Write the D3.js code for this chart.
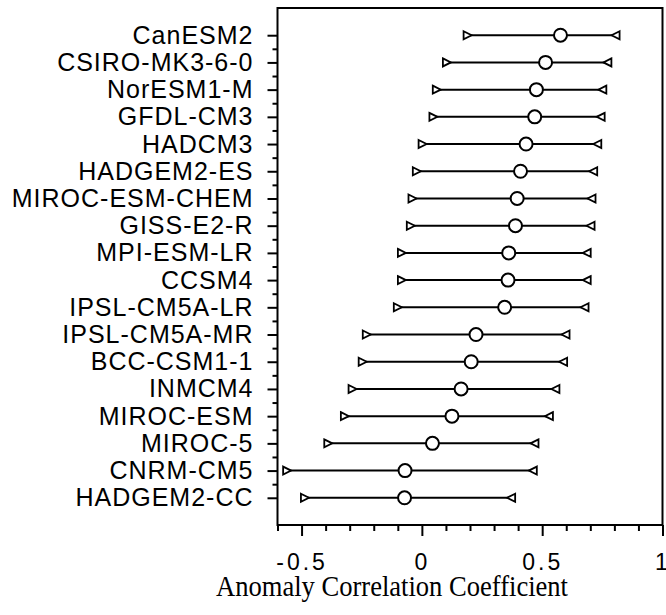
<!DOCTYPE html>
<html>
<head>
<meta charset="utf-8">
<script src="https://cdn.jsdelivr.net/npm/d3@7"></script>
<style>
  body { margin: 0; background: #fff; }
  svg { display: block; }
</style>
</head>
<body>
<div id="vis"></div>
<script>
const FRAME_WIDTH = 666;
const FRAME_HEIGHT = 615;
const PLOT = {left: 277.5, right: 662.5, top: 8, bottom: 525};

// models, top to bottom
const models = ["CanESM2", "CSIRO-MK3-6-0", "NorESM1-M", "GFDL-CM3", "HADCM3",
  "HADGEM2-ES", "MIROC-ESM-CHEM", "GISS-E2-R", "MPI-ESM-LR", "CCSM4",
  "IPSL-CM5A-LR", "IPSL-CM5A-MR", "BCC-CSM1-1", "INMCM4", "MIROC-ESM",
  "MIROC-5", "CNRM-CM5", "HADGEM2-CC"];
const acc   = [0.576, 0.514, 0.476, 0.469, 0.433, 0.41, 0.396, 0.389, 0.361, 0.358,
  0.344, 0.225, 0.205, 0.163, 0.125, 0.044, -0.07, -0.072];
const lower = [0.19, 0.104, 0.062, 0.048, 0.003, -0.021, -0.039, -0.046, -0.083, -0.083,
  -0.1, -0.229, -0.246, -0.288, -0.32, -0.389, -0.56, -0.486];
const upper = [0.805, 0.771, 0.75, 0.743, 0.729, 0.712, 0.705, 0.701, 0.685, 0.685,
  0.676, 0.597, 0.587, 0.555, 0.528, 0.468, 0.461, 0.371];

const xMajor = [-0.5, 0, 0.5, 1];
const xMinor = d3.range(-6, 11).map(d => d / 10);

const rows = models.map((m, i) => ({model: m, i: i, acc: acc[i], lo: lower[i], hi: upper[i]}));

const svg = d3.select("#vis")
  .append("svg")
    .attr("width", FRAME_WIDTH)
    .attr("height", FRAME_HEIGHT);

// scales
const X_SCALE = d3.scaleLinear()
  .domain([-0.6, 1])
  .range([PLOT.left, PLOT.right]);

// index -> y, one empty step above and below
const Y_SCALE = d3.scaleLinear()
  .domain([-1, models.length])
  .range([PLOT.top, PLOT.bottom]);

// y axis, labels on majors
const yAxis = d3.axisLeft(Y_SCALE)
  .tickValues(d3.range(models.length))
  .tickFormat(i => models[i])
  .tickSize(10)
  .tickPadding(14);

const gy = svg.append("g")
  .attr("transform", `translate(${PLOT.left},0)`)
  .call(yAxis);
gy.select(".domain").remove();
gy.selectAll("line").attr("stroke-width", 2);
gy.selectAll("text")
  .attr("font-family", "Liberation Sans, Arial, sans-serif")
  .attr("font-size", 25)
  .attr("letter-spacing", 1)
  .attr("fill", "#000");

const gyMinor = svg.append("g")
  .attr("transform", `translate(${PLOT.left},0)`)
  .call(d3.axisLeft(Y_SCALE)
    .tickValues(d3.range(models.length - 1).map(i => i + 0.5))
    .tickFormat("")
    .tickSize(5));
gyMinor.select(".domain").remove();
gyMinor.selectAll("line").attr("stroke-width", 2);

// x axis
const gx = svg.append("g")
  .attr("transform", `translate(0,${PLOT.bottom})`)
  .call(d3.axisBottom(X_SCALE)
    .tickValues(xMajor)
    .tickFormat(d => d === 0 ? "0" : String(d))
    .tickSize(11)
    .tickPadding(18));
gx.select(".domain").remove();
gx.selectAll("line").attr("stroke-width", 2);
gx.selectAll("text")
  .attr("font-family", "Liberation Sans, Arial, sans-serif")
  .attr("font-size", 23)
  .attr("letter-spacing", 3)
  .attr("fill", "#000");

const gxMinor = svg.append("g")
  .attr("transform", `translate(0,${PLOT.bottom})`)
  .call(d3.axisBottom(X_SCALE)
    .tickValues(xMinor.filter(v => !xMajor.includes(v)))
    .tickFormat("")
    .tickSize(6));
gxMinor.select(".domain").remove();
gxMinor.selectAll("line").attr("stroke-width", 2);

// frame
svg.append("rect")
  .attr("x", PLOT.left)
  .attr("y", PLOT.top)
  .attr("width", PLOT.right - PLOT.left)
  .attr("height", PLOT.bottom - PLOT.top)
  .attr("fill", "none")
  .attr("stroke", "#000")
  .attr("stroke-width", 2);

// axis title
svg.append("text")
  .attr("x", (216 + 568) / 2)
  .attr("y", 596)
  .attr("text-anchor", "middle")
  .attr("font-family", "Liberation Serif, Times New Roman, serif")
  .attr("font-size", 29)
  .attr("textLength", 352)
  .attr("lengthAdjust", "spacingAndGlyphs")
  .text("Anomaly Correlation Coefficient");

// ranges
svg.selectAll(".range")
  .data(rows)
  .enter()
  .append("line")
    .attr("class", "range")
    .attr("x1", d => X_SCALE(d.lo))
    .attr("x2", d => X_SCALE(d.hi))
    .attr("y1", d => Y_SCALE(d.i))
    .attr("y2", d => Y_SCALE(d.i))
    .attr("stroke", "#000")
    .attr("stroke-width", 2);

const T = 4; // half size of triangle

// lower end, pointing right
svg.selectAll(".lo")
  .data(rows)
  .enter()
  .append("path")
    .attr("class", "lo")
    .attr("d", d => {
      const cx = X_SCALE(d.lo), cy = Y_SCALE(d.i);
      return `M${cx - T},${cy - T}L${cx + T},${cy}L${cx - T},${cy + T}Z`;
    })
    .attr("fill", "#fff")
    .attr("stroke", "#000")
    .attr("stroke-width", 1.8);

// upper end, pointing left
svg.selectAll(".hi")
  .data(rows)
  .enter()
  .append("path")
    .attr("class", "hi")
    .attr("d", d => {
      const cx = X_SCALE(d.hi), cy = Y_SCALE(d.i);
      return `M${cx + T},${cy - T}L${cx - T},${cy}L${cx + T},${cy + T}Z`;
    })
    .attr("fill", "#fff")
    .attr("stroke", "#000")
    .attr("stroke-width", 1.8);

// acc
svg.selectAll(".pt")
  .data(rows)
  .enter()
  .append("circle")
    .attr("class", "pt")
    .attr("cx", d => X_SCALE(d.acc))
    .attr("cy", d => Y_SCALE(d.i))
    .attr("r", 6.5)
    .attr("fill", "#fff")
    .attr("stroke", "#000")
    .attr("stroke-width", 2);
</script>
</body>
</html>
